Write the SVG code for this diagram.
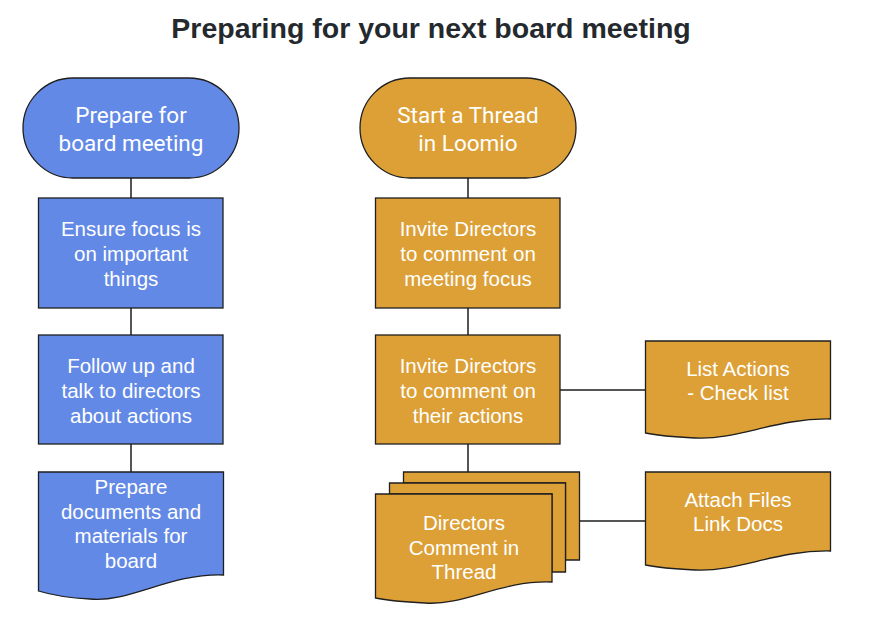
<svg xmlns="http://www.w3.org/2000/svg" width="872" height="638" viewBox="0 0 872 638">
<style>
.blue{fill:#6389e6;stroke:#1f1f1f;stroke-width:1.3}
.orange{fill:#dca036;stroke:#1f1f1f;stroke-width:1.3}
.t{font-family:"Liberation Sans",Arial,sans-serif;font-size:20.5px;fill:#ffffff;text-anchor:middle}
.r{font-family:Roboto,"Liberation Sans",sans-serif;font-size:22.5px;fill:#ffffff;text-anchor:middle}
.c{stroke:#555555;stroke-width:2;fill:none}
.title{font-family:"Liberation Sans",Arial,sans-serif;font-size:28.5px;font-weight:bold;fill:#24292e;text-anchor:middle}
</style>
<rect width="872" height="638" fill="#ffffff"/>
<text class="title" x="431" y="38">Preparing for your next board meeting</text>
<g id="connectors">
<line class="c" x1="131" y1="178" x2="131" y2="198"/>
<line class="c" x1="131" y1="308" x2="131" y2="335"/>
<line class="c" x1="131" y1="444" x2="131" y2="472"/>
<line class="c" x1="468" y1="178" x2="468" y2="198"/>
<line class="c" x1="468" y1="308" x2="468" y2="335"/>
<line class="c" x1="468" y1="444" x2="468" y2="472"/>
<line class="c" x1="560" y1="390" x2="646" y2="390"/>
<line class="c" x1="580" y1="521" x2="646" y2="521"/>
</g>
<g id="prepare">
<rect class="blue" x="23" y="78" width="216" height="100" rx="50" ry="50"/>
<text class="r" x="131" y="123">Prepare for</text>
<text class="r" x="131" y="151">board meeting</text>
</g>
<g id="ensure">
<rect class="blue" x="38.5" y="198" width="184.5" height="110"/>
<text class="t"><tspan x="131" y="236">Ensure focus is</tspan><tspan x="131" y="261">on important</tspan><tspan x="131" y="286">things</tspan></text>
</g>
<g id="follow">
<rect class="blue" x="38.5" y="335" width="184.5" height="109"/>
<text class="t"><tspan x="131" y="373">Follow up and</tspan><tspan x="131" y="398">talk to directors</tspan><tspan x="131" y="423">about actions</tspan></text>
</g>
<g id="documents">
<path class="blue" d="M38.5,472 H223.5 V575 C170,573 130,603 90,599 C70,598 55,596 38.5,591 Z"/>
<text class="t"><tspan x="131" y="494">Prepare</tspan><tspan x="131" y="519">documents and</tspan><tspan x="131" y="543">materials for</tspan><tspan x="131" y="568">board</tspan></text>
</g>
<g id="start">
<rect class="orange" x="360" y="78" width="216" height="100" rx="50" ry="50"/>
<text class="r" x="468" y="123">Start a Thread</text>
<text class="r" x="468" y="151">in Loomio</text>
</g>
<g id="invite-focus">
<rect class="orange" x="375.5" y="198" width="184.5" height="110"/>
<text class="t"><tspan x="468" y="236">Invite Directors</tspan><tspan x="468" y="261">to comment on</tspan><tspan x="468" y="286">meeting focus</tspan></text>
</g>
<g id="invite-actions">
<rect class="orange" x="375.5" y="335" width="184.5" height="109"/>
<text class="t"><tspan x="468" y="373">Invite Directors</tspan><tspan x="468" y="398">to comment on</tspan><tspan x="468" y="423">their actions</tspan></text>
</g>
<g id="list-actions">
<path class="orange" d="M645.5,341 H830.5 V419 C775,418 740,440 695,438 C675,437 660,436 645.5,433 Z"/>
<text class="t"><tspan x="738" y="376">List Actions</tspan><tspan x="738" y="400">- Check list</tspan></text>
</g>
<g id="directors-comment">
<path class="orange" d="M403.5,472 H579.5 V560 L565.5,560 L565.5,483 H403.5 Z"/>
<path class="orange" d="M389.5,483 H565.5 V572 L552,572 L552,494 H389.5 Z"/>
<path class="orange" d="M375.5,494 H552 V582 C500,580 465,606 425,603 C405,602 390,601 375.5,598 Z"/>
<text class="t"><tspan x="464" y="530">Directors</tspan><tspan x="464" y="555">Comment in</tspan><tspan x="464" y="579">Thread</tspan></text>
</g>
<g id="attach">
<path class="orange" d="M645.5,472 H830.5 V551 C775,550 740,572 695,570 C675,569 660,568 645.5,565 Z"/>
<text class="t"><tspan x="738" y="507">Attach Files</tspan><tspan x="738" y="531">Link Docs</tspan></text>
</g>
</svg>
